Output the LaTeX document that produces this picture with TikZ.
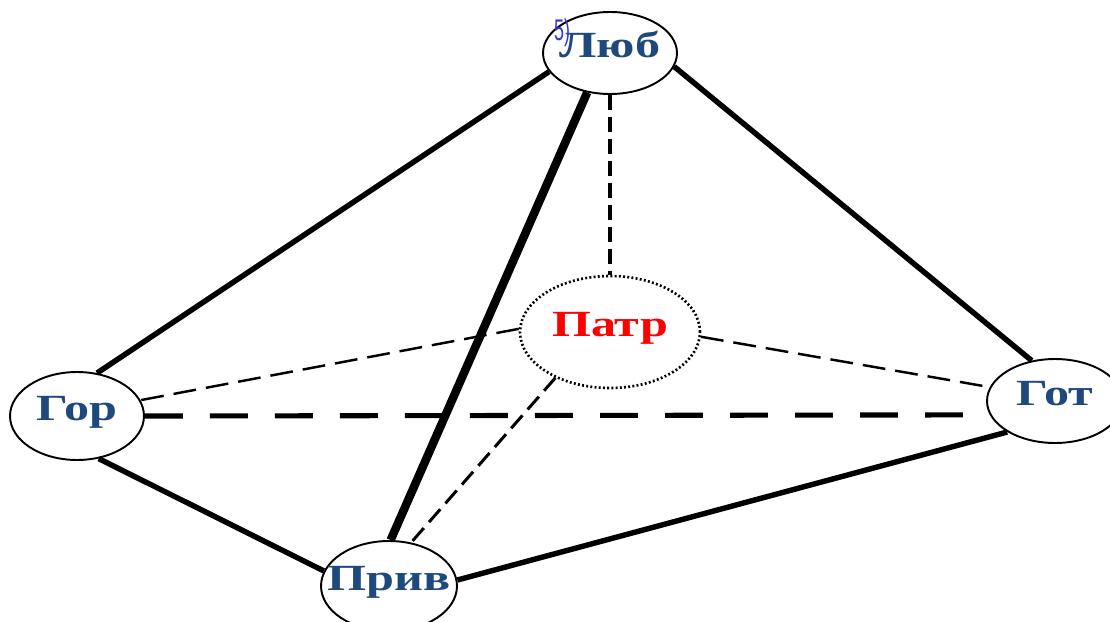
\documentclass[tikz,border=0pt]{standalone}
\usepackage{fontspec}
\usetikzlibrary{shapes.geometric}
\newfontfamily\lab{Liberation Serif}[FakeStretch=1.36]
\newfontfamily\numf{Liberation Sans}[FakeStretch=0.6]
\definecolor{nblue}{HTML}{1F497D}
\definecolor{mblue}{HTML}{3636D6}
\newcommand\lbl[1]{\smash{\makebox[0pt]{\raisebox{-2.4pt}{#1}}}}
\begin{document}
\begin{tikzpicture}[x=0.02cm,y=-0.02cm,
  ell/.style={ellipse, draw, line width=1.1pt, fill=white, inner sep=0pt,
    font=\lab\bfseries\fontsize{21}{21}\selectfont, text=nblue},
  dotell/.style={ell, dash pattern=on 1.1pt off 1.3pt, line width=1.5pt, text=red},
  solidline/.style={line width=3.1pt},
  heavyline/.style={line width=4.8pt},
  bigdash/.style={line width=2.9pt, dash pattern=on 21.6pt off 15.4pt},
  middash/.style={line width=2.3pt, dash pattern=on 8.5pt off 4pt},
  thindash/.style={line width=1.4pt, dash pattern=on 13pt off 5.7pt},
  diagdash/.style={line width=1.7pt, dash pattern=on 9.7pt off 4.5pt},
  mark5/.style={font=\numf\fontsize{17}{17}\selectfont, text=mblue, inner sep=0pt}
]
\useasboundingbox (0,0) rectangle (1110,622);
\fill[white] (0,0) rectangle (1110,622);

\node[ell, minimum width=2.68cm, minimum height=1.64cm] (L) at (610,53) {\lbl{Люб}};
\node[dotell, minimum width=3.6cm, minimum height=2.24cm] (P) at (610,332) {\lbl{Патр}};
\node[ell, minimum width=2.68cm, minimum height=1.76cm] (G) at (77,416) {\lbl{Гор}};
\node[ell, minimum width=2.72cm, minimum height=1.68cm] (T) at (1055,401) {\lbl{Гот}};
\node[ell, minimum width=2.72cm, minimum height=1.8cm] (V) at (389,586) {\lbl{Прив}};
\node[mark5] (n5) at (562,33) {5)};

% dashed connectors
\draw[bigdash] (G.east) -- (T.192);
\draw[middash] (L.south) -- (P.north);
\draw[thindash] (P.178) -- (G.14);
\draw[thindash] (P.-3) -- (T.168);
\draw[diagdash] (P.220) -- (V.63);

% solid connectors
\draw[solidline] (L.197) -- (G.65);
\draw[heavyline] (L.240) -- (V.88);
\draw[solidline] (L.-12) -- (T.120);
\draw[solidline] (G.-63) -- (V.167);
\draw[solidline] (V.5) -- (T.213);
\end{tikzpicture}
\end{document}
